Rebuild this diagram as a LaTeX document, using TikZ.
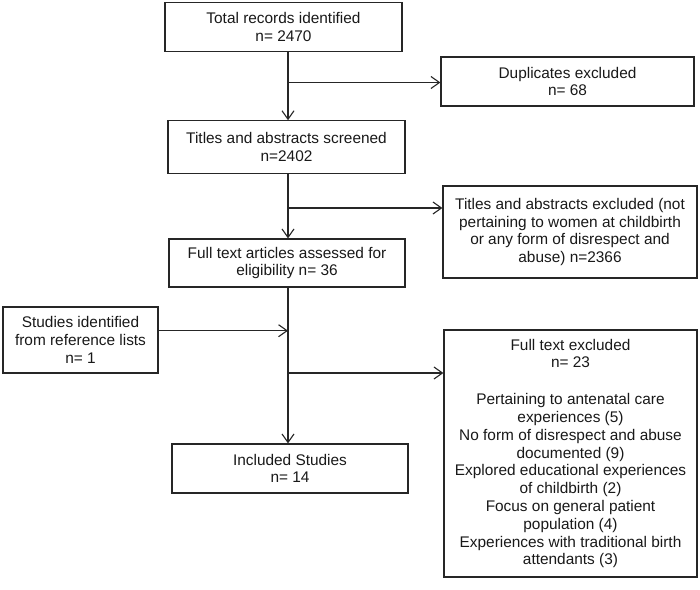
\documentclass[tikz,border=0pt]{standalone}
\usepackage{fontspec}
\setmainfont{Liberation Sans}
\usetikzlibrary{arrows.meta}
\begin{document}
\begin{tikzpicture}[x=1pt,y=-1pt,
  box/.style={draw=black!85, line width=1.2pt, fill=white, inner sep=0pt, align=center,
    font=\fontsize{15.4}{17.8}\selectfont, text=black!90},
  arr/.style={draw=black!85, line width=1.2pt, -{Straight Barb[length=8.5pt,width=12pt,line width=1.1pt]}},
  ln/.style={draw=black!85, line width=1.2pt}]
\useasboundingbox (0,0) rectangle (700,589);
\fill[white] (0,0) rectangle (700,589);
\node[box, minimum width=237pt, minimum height=49pt] (b1) at (283.5,27.2) {Total records identified\\n= 2470};
\node[box, minimum width=253pt, minimum height=49pt] (dup) at (567.5,81.5) {Duplicates excluded\\n= 68};
\node[box, minimum width=237pt, minimum height=53pt] (b2) at (286.5,147.3) {Titles and abstracts screened\\n=2402};
\node[box, minimum width=254pt, minimum height=92pt] (ex1) at (570,232) {Titles and abstracts excluded (not\\pertaining to women at childbirth\\or any form of disrespect and\\abuse) n=2366};
\node[box, minimum width=236pt, minimum height=48pt] (ft) at (287,263) {Full text articles assessed for\\eligibility n= 36};
\node[box, minimum width=155pt, minimum height=66pt] (st) at (80.5,340) {Studies identified\\from reference lists\\n= 1};
\node[box, minimum width=253pt, minimum height=247pt] (ex2) at (570.5,453.5) {Full text excluded\\n= 23\\[19pt]Pertaining to antenatal care\\experiences (5)\\No form of disrespect and abuse\\documented (9)\\Explored educational experiences\\of childbirth (2)\\Focus on general patient\\population (4)\\Experiences with traditional birth\\attendants (3)};
\node[box, minimum width=236pt, minimum height=49pt] (inc) at (290,468.5) {Included Studies\\n= 14};
\coordinate (spine) at (288,0);
\coordinate (j1) at (288,82.5);
\coordinate (j2) at (288,208);
\coordinate (j3) at (288,330.7);
\coordinate (j4) at (288,373);
\draw[arr] (b1.south -| spine) -- (b2.north -| spine);
\draw[arr] (j1) -- (j1 -| dup.west);
\draw[arr] (b2.south -| spine) -- (ft.north -| spine);
\draw[arr] (j2) -- (j2 -| ex1.west);
\draw[arr] (ft.south -| spine) -- (inc.north -| spine);
\draw[arr] (j3 -| st.east) -- (j3);
\draw[arr] (j4) -- (j4 -| ex2.west);
\end{tikzpicture}
\end{document}
